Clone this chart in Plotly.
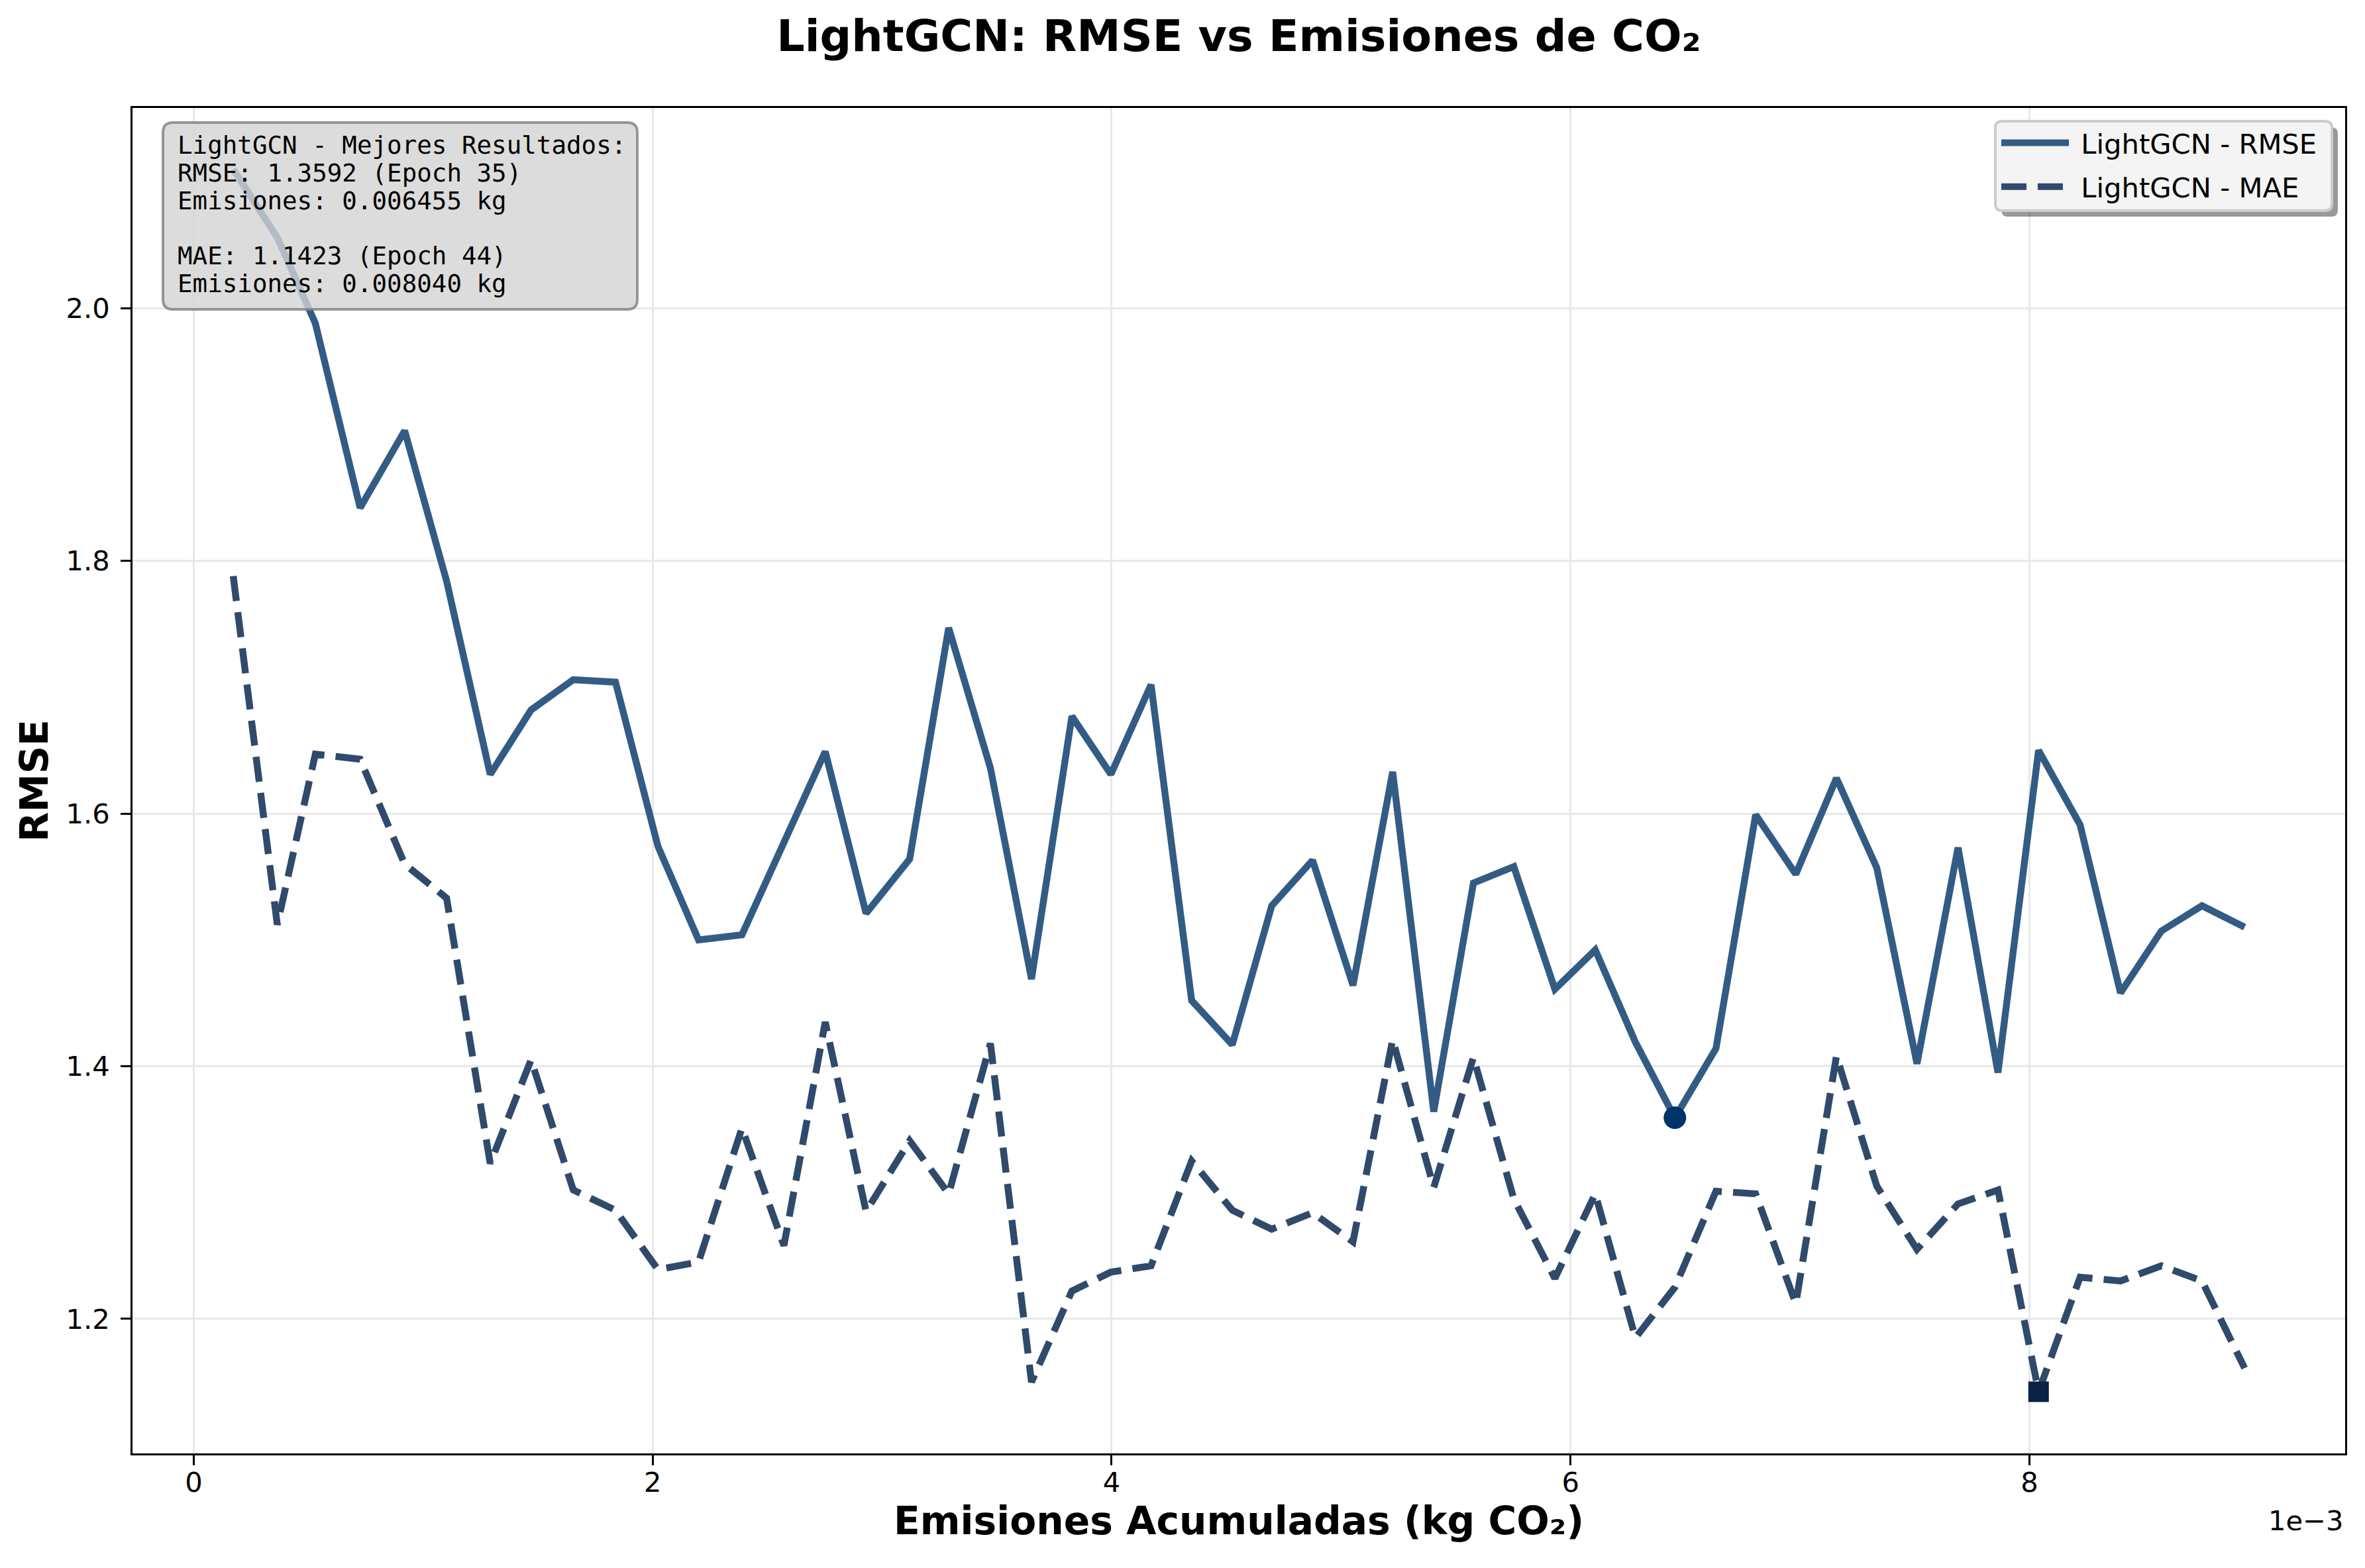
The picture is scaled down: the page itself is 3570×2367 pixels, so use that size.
import plotly.graph_objects as go

# cumulative emissions per epoch (kg CO2)
emissions = [
    0.000172, 0.000364, 0.000530, 0.000725, 0.000919, 0.001102, 0.001292, 0.001470, 0.001654, 0.001838,
    0.002023, 0.002200, 0.002389, 0.002572, 0.002752, 0.002930, 0.003120, 0.003290, 0.003472, 0.003651,
    0.003827, 0.003997, 0.004172, 0.004349, 0.004526, 0.004698, 0.004876, 0.005052, 0.005225, 0.005404,
    0.005577, 0.005753, 0.005932, 0.006108, 0.006283, 0.006455, 0.006634, 0.006807, 0.006982, 0.007159,
    0.007335, 0.007510, 0.007689, 0.007863, 0.008040, 0.008221, 0.008397, 0.008575, 0.008752, 0.008938,
]
rmse = [
    2.110, 2.056, 1.988, 1.842, 1.903, 1.784, 1.631, 1.682, 1.706, 1.704,
    1.574, 1.500, 1.504, 1.577, 1.649, 1.521, 1.564, 1.747, 1.636, 1.469,
    1.677, 1.631, 1.702, 1.452, 1.417, 1.527, 1.563, 1.464, 1.633, 1.364,
    1.545, 1.558, 1.461, 1.492, 1.419, 1.3592, 1.414, 1.599, 1.552, 1.628,
    1.557, 1.402, 1.573, 1.395, 1.650, 1.591, 1.458, 1.507, 1.527, 1.510,
]
mae = [
    1.788, 1.512, 1.647, 1.643, 1.560, 1.533, 1.323, 1.405, 1.302, 1.286,
    1.239, 1.245, 1.351, 1.258, 1.435, 1.285, 1.341, 1.299, 1.418, 1.150,
    1.222, 1.237, 1.242, 1.325, 1.286, 1.271, 1.284, 1.261, 1.421, 1.304,
    1.407, 1.295, 1.232, 1.299, 1.185, 1.225, 1.301, 1.299, 1.212, 1.408,
    1.305, 1.255, 1.291, 1.302, 1.1423, 1.233, 1.230, 1.242, 1.230, 1.161,
]
x_tickvals = [0, 0.002, 0.004, 0.006, 0.008]
x_ticktext = ["0", "2", "4", "6", "8"]
y_tickvals = [1.2, 1.4, 1.6, 1.8, 2.0]

# the page body adds an 8px margin, so the figure is shrunk by that amount
OFF = 8
W, H = 3570 - OFF, 2367 - OFF
# plot area in page pixels: x 200..3540, y 163..2194
ML, MT = 200 - OFF, 163 - OFF
PW, PH = 3340, 2031
MR, MB = W - ML - PW, H - MT - PH

RMSE_COLOR = "#335c85"
MAE_COLOR = "#2f4a6b"
FONT = "DejaVu Sans"
MONO = "DejaVu Sans Mono"


def px_x(X):
    # page pixel -> paper x
    return (X - OFF - ML) / PW


def px_y(Y):
    # page pixel -> paper y
    return (MT + PH - (Y - OFF)) / PH


def round_rect(x0, y0, x1, y1, r):
    pts = [
        f"M{px_x(x0 + r)},{px_y(y0)}",
        f"L{px_x(x1 - r)},{px_y(y0)}",
        f"Q{px_x(x1)},{px_y(y0)} {px_x(x1)},{px_y(y0 + r)}",
        f"L{px_x(x1)},{px_y(y1 - r)}",
        f"Q{px_x(x1)},{px_y(y1)} {px_x(x1 - r)},{px_y(y1)}",
        f"L{px_x(x0 + r)},{px_y(y1)}",
        f"Q{px_x(x0)},{px_y(y1)} {px_x(x0)},{px_y(y1 - r)}",
        f"L{px_x(x0)},{px_y(y0 + r)}",
        f"Q{px_x(x0)},{px_y(y0)} {px_x(x0 + r)},{px_y(y0)}",
        "Z",
    ]
    return " ".join(pts)


best_r = min(range(len(rmse)), key=lambda i: rmse[i])
best_m = min(range(len(mae)), key=lambda i: mae[i])

fig = go.Figure()
fig.add_trace(go.Scatter(
    x=emissions, y=rmse, mode="lines", name="\u00a0LightGCN - RMSE", legendgroup="rmse",
    line=dict(color=RMSE_COLOR, width=10.4),
))
fig.add_trace(go.Scatter(
    x=emissions, y=mae, mode="lines", name="\u00a0LightGCN - MAE", legendgroup="mae",
    line=dict(color=MAE_COLOR, width=10.4, dash="38px,17px"),
))
fig.add_trace(go.Scatter(
    x=[emissions[best_r]], y=[rmse[best_r]], mode="markers", showlegend=False,
    marker=dict(symbol="circle", size=34, color="#003366"),
))
fig.add_trace(go.Scatter(
    x=[emissions[best_m]], y=[mae[best_m]], mode="markers", showlegend=False,
    marker=dict(symbol="square", size=31, color="#0a2344"),
))

shapes = [
    # legend shadow + frame
    dict(type="path", xref="paper", yref="paper", path=round_rect(3021, 192, 3529, 327, 10),
         fillcolor="rgba(0,0,0,0.4)", line=dict(width=0), layer="above"),
    dict(type="path", xref="paper", yref="paper", path=round_rect(3012, 183, 3520, 318, 10),
         fillcolor="#f4f4f4", line=dict(color="#cccccc", width=4), layer="above"),
    # stats box
    dict(type="path", xref="paper", yref="paper", path=round_rect(246, 185, 962, 467, 15),
         fillcolor="rgba(211,211,211,0.8)", line=dict(color="rgba(128,128,128,0.8)", width=4),
         layer="above"),
]

stats_lines = [
    "LightGCN - Mejores Resultados:",
    f"RMSE: {rmse[best_r]:.4f} (Epoch {best_r})",
    f"Emisiones: {emissions[best_r]:.6f} kg",
    "",
    f"MAE: {mae[best_m]:.4f} (Epoch {best_m})",
    f"Emisiones: {emissions[best_m]:.6f} kg",
]
annotations = []
y_line = 219
for line in stats_lines:
    if line:
        annotations.append(dict(
            text=line, xref="paper", yref="paper", x=px_x(266), y=px_y(y_line),
            xanchor="left", yanchor="middle", showarrow=False,
            font=dict(family=MONO, size=37.5, color="black"),
        ))
    y_line += 41.8

annotations.append(dict(
    text="1e\u22123", xref="paper", yref="paper", x=1, y=px_y(2295),
    xanchor="right", yanchor="middle", showarrow=False,
    font=dict(family=FONT, size=41.7, color="black"),
))

axis_common = dict(
    showline=True, linecolor="black", linewidth=3.3, mirror=True,
    ticks="outside", ticklen=14.6, tickwidth=3.3, tickcolor="black",
    showgrid=True, gridcolor="#e8e8e8", gridwidth=2.5,
    zeroline=False, automargin=False,
    tickfont=dict(family=FONT, size=41.7, color="black"),
)

fig.update_layout(
    width=W, height=H,
    template="none",
    paper_bgcolor="white", plot_bgcolor="white",
    margin=dict(l=ML, r=MR, t=MT, b=MB),
    title=dict(
        text="LightGCN: RMSE vs Emisiones de CO₂",
        x=0.5, xref="paper", y=1 - 46 / H, yref="container", yanchor="middle",
        font=dict(family=FONT, size=66.7, color="black", weight="bold"),
    ),
    xaxis=dict(
        axis_common, range=[-0.000267, 0.009376],
        tickvals=x_tickvals, ticktext=x_ticktext, ticklabelstandoff=-10,
        title=dict(text="Emisiones Acumuladas (kg CO₂)", standoff=14,
                   font=dict(family=FONT, size=58.3, color="black", weight="bold")),
    ),
    yaxis=dict(
        axis_common, range=[1.0935, 2.1585],
        tickvals=y_tickvals, tickformat=".1f", ticklabelstandoff=8,
        title=dict(text="RMSE", standoff=9,
                   font=dict(family=FONT, size=58.3, color="black", weight="bold")),
    ),
    showlegend=True,
    legend=dict(
        x=px_x(3016), y=px_y(182), xanchor="left", yanchor="top",
        bgcolor="rgba(0,0,0,0)", borderwidth=0, itemwidth=102,
        font=dict(family=FONT, size=41.7, color="black"),
        tracegroupgap=9,
    ),
    shapes=shapes,
    annotations=annotations,
)

fig.write_html("out.html")
